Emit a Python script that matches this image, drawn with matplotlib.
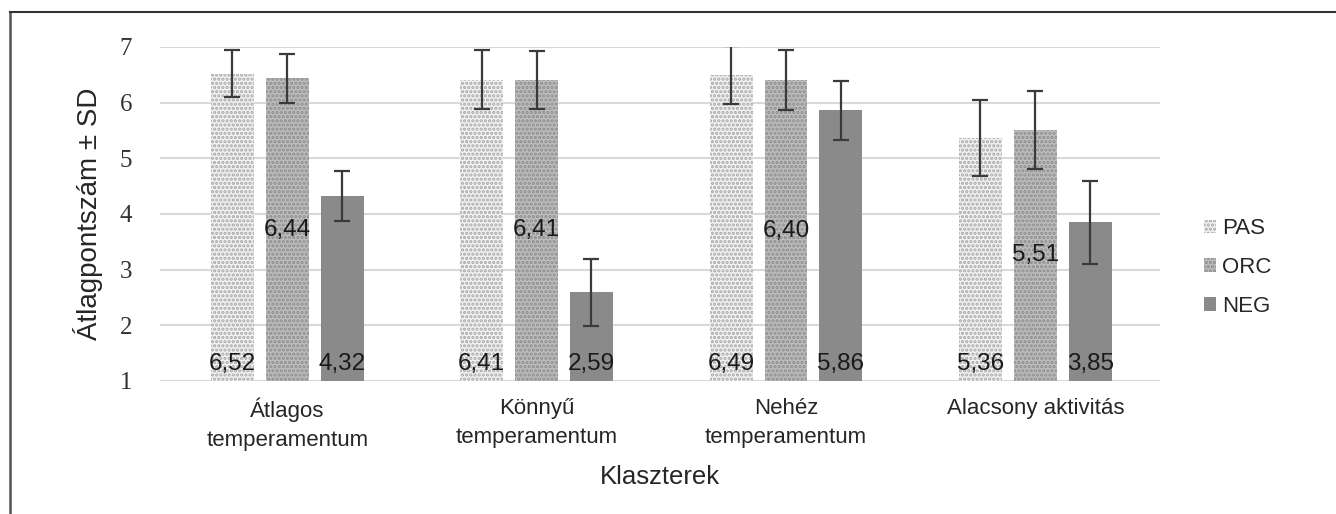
"""Átlagpontszám ± SD klaszterenként (PAS / ORC / NEG)."""

import numpy as np
import matplotlib
matplotlib.use("Agg")
import matplotlib.pyplot as plt
from matplotlib.lines import Line2D

plt.rcParams["font.family"] = ["Liberation Sans", "DejaVu Sans"]
plt.rcParams["hatch.linewidth"] = 1.6

# ── Data ──────────────────────────────────────────────────────
clusters = ["Átlagos\ntemperamentum", "Könnyű\ntemperamentum",
            "Nehéz\ntemperamentum", "Alacsony aktivitás"]
series = ["PAS", "ORC", "NEG"]
pas_mean = [6.52, 6.41, 6.49, 5.36]
orc_mean = [6.44, 6.41, 6.40, 5.51]
neg_mean = [4.32, 2.59, 5.86, 3.85]
pas_sd = [0.42, 0.53, 0.52, 0.68]
orc_sd = [0.44, 0.52, 0.54, 0.70]
neg_sd = [0.45, 0.60, 0.53, 0.74]

means = [pas_mean, orc_mean, neg_mean]
sds = [pas_sd, orc_sd, neg_sd]

# ── Style ─────────────────────────────────────────────────────
styles = [
    dict(facecolor="#f2f2f2", edgecolor="#a8a8a8", hatch="...."),
    dict(facecolor="#bdbdbd", edgecolor="#8e8e8e", hatch="...."),
    dict(facecolor="#8a8a8a", edgecolor="#8a8a8a", hatch=None),
]
offsets = [-0.22, 0.0, 0.22]
width = 0.172
base = 1.0

fig = plt.figure(figsize=(13.36, 5.14), dpi=100)
ax = fig.add_axes([0.1198, 0.2588, 0.7485, 0.6498])

x = np.arange(len(clusters))
for i, name in enumerate(series):
    vals = np.array(means[i])
    ax.bar(x + offsets[i], vals - base, width, bottom=base,
           linewidth=0, label=name, zorder=2, **styles[i])
    ax.errorbar(x + offsets[i], vals, yerr=sds[i], fmt="none",
                ecolor="#3a3a3a", elinewidth=1.6, capsize=6, capthick=1.6,
                zorder=3)
    for xi, v in zip(x + offsets[i], vals):
        lbl = f"{v:.2f}".replace(".", ",")
        if name == "ORC":
            ypos = (base + v) / 2
            va = "center"
        else:
            ypos = base + 0.1
            va = "bottom"
        ax.text(xi, ypos, lbl, ha="center", va=va, fontsize=17.5,
                color="#1a1a1a", zorder=4)

ax.set_xlim(-0.51, 3.5)
ax.set_ylim(1, 7)
ax.set_yticks(range(1, 8))
ax.set_yticklabels([str(t) for t in range(1, 8)],
                   family=["Liberation Serif", "DejaVu Serif"], fontsize=18,
                   color="#333333")
ax.set_xticks(x)
ax.set_xticklabels(clusters, fontsize=16, color="#262626", linespacing=1.5)
ax.tick_params(axis="both", length=0)
ax.tick_params(axis="y", pad=20)
ax.tick_params(axis="x", pad=12)
ax.grid(axis="y", color="#d9d9d9", linewidth=1.5, zorder=0)
ax.set_axisbelow(True)
for s in ax.spines.values():
    s.set_visible(False)

ax.set_ylabel("Átlagpontszám ± SD", fontsize=20, color="#262626", labelpad=12)
ax.set_xlabel("Klaszterek", fontsize=18.5, color="#262626", labelpad=10)

# Legend
handles = [plt.Rectangle((0, 0), 1, 1, linewidth=0, **styles[i]) for i in range(3)]
ax.legend(handles, series, loc="center left", bbox_to_anchor=(1.024, 0.34),
          frameon=False, fontsize=16, handlelength=0.55, handleheight=0.55,
          handletextpad=0.25, labelspacing=0.8, labelcolor="#262626")

# Figure frame (top and left edges visible)
fig.add_artist(Line2D([10 / 1336, 10 / 1336], [0, 1 - 12 / 514],
                      transform=fig.transFigure, color="#555555", lw=1.8))
fig.add_artist(Line2D([10 / 1336, 1], [1 - 12 / 514, 1 - 12 / 514],
                      transform=fig.transFigure, color="#333333", lw=1.5))

fig.savefig("out.png", dpi=100)
